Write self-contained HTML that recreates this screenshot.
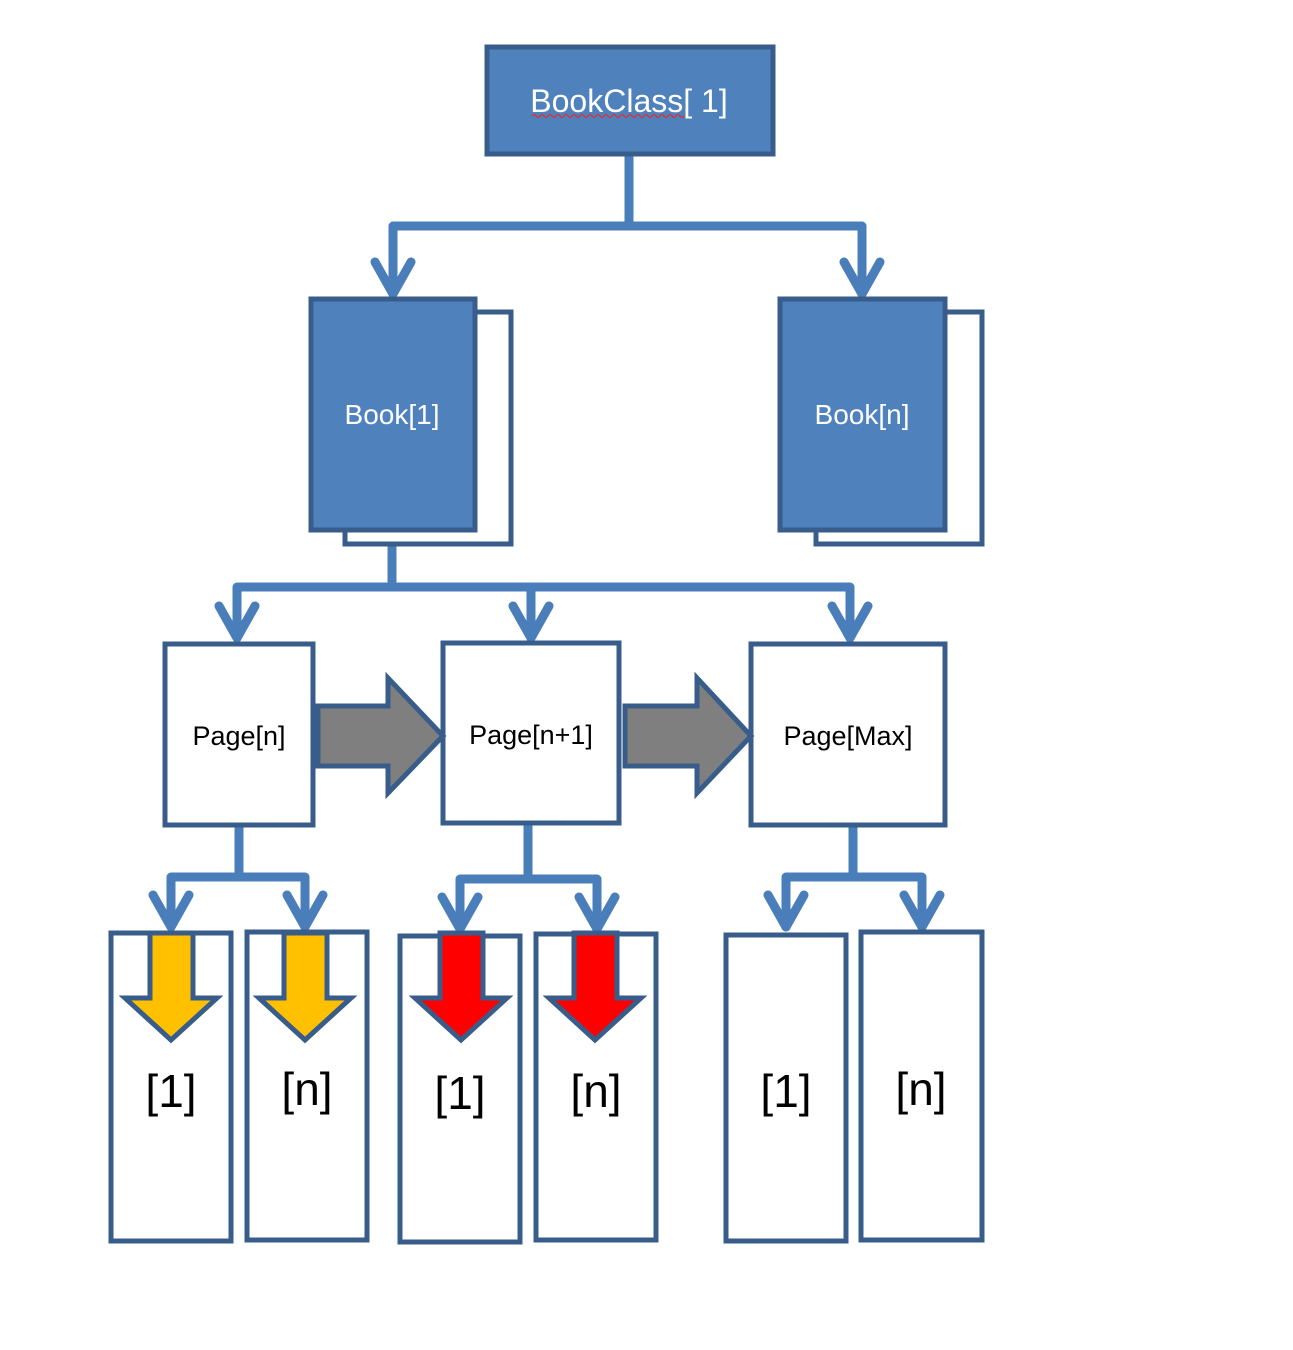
<!DOCTYPE html>
<html><head><meta charset="utf-8"><style>
html,body{margin:0;padding:0;background:#fff;}
svg{display:block;}
text{font-family:"Liberation Sans",sans-serif;}
</style></head><body>
<svg width="1293" height="1350" viewBox="0 0 1293 1350" xmlns="http://www.w3.org/2000/svg">
<g fill="none" stroke="#4a7ebb" stroke-width="9" stroke-linejoin="round" stroke-linecap="round">
<path d="M629 154 V226 M393 226 H862 M393 226 V294 M862 226 V294"/>
<path d="M375 262 L393 294 L411 262 M844 262 L862 294 L880 262"/>
<path d="M392 530 V587 M237 587 H850 M237 587 V638 M531 587 V638 M850 587 V638"/>
<path d="M219 606 L237 638 L255 606 M513 606 L531 638 L549 606 M832 606 L850 638 L868 606"/>
<path d="M239 825 V877 M171 877 H305 M171 877 V927 M305 877 V927"/>
<path d="M153 895 L171 927 L189 895 M287 895 L305 927 L323 895"/>
<path d="M528 823 V879 M460 879 H597 M460 879 V929 M597 879 V929"/>
<path d="M442 897 L460 929 L478 897 M579 897 L597 929 L615 897"/>
<path d="M853 825 V877 M786 877 H922 M786 877 V927 M922 877 V927"/>
<path d="M768 895 L786 927 L804 895 M904 895 L922 927 L940 895"/>
</g>
<g stroke="#385d8a" stroke-width="5">
<rect x="487" y="47" width="286" height="107" fill="#4f81bd"/>
<rect x="345" y="312" width="166" height="232" fill="#fff"/>
<rect x="311" y="299" width="164" height="231" fill="#4f81bd"/>
<rect x="816" y="312" width="166" height="232" fill="#fff"/>
<rect x="780" y="299" width="165" height="231" fill="#4f81bd"/>
<rect x="165" y="644" width="148" height="181" fill="#fff"/>
<rect x="443" y="643" width="176" height="180" fill="#fff"/>
<rect x="751" y="644" width="194" height="181" fill="#fff"/>
<path d="M318 706 H388 V678 L443 736 L388 793 V766 H318 Z" fill="#7f7f7f"/>
<path d="M625 706 H697 V678 L751 736 L697 793 V766 H625 Z" fill="#7f7f7f"/>
<rect x="111" y="933" width="120" height="308" fill="#fff"/>
<rect x="247" y="932" width="120" height="308" fill="#fff"/>
<rect x="400" y="936" width="120" height="306" fill="#fff"/>
<rect x="536" y="934" width="120" height="306" fill="#fff"/>
<rect x="726" y="935" width="120" height="306" fill="#fff"/>
<rect x="861" y="932" width="121" height="308" fill="#fff"/>
<path d="M150 933 H193 V998 H217 L171 1040 L125 998 H150 Z" fill="#ffc000"/>
<path d="M284 933 H327 V998 H351 L305 1040 L259 998 H284 Z" fill="#ffc000"/>
<path d="M440 933 H483 V998 H507 L461 1040 L415 998 H440 Z" fill="#ff0000"/>
<path d="M574 933 H617 V998 H641 L595 1040 L549 998 H574 Z" fill="#ff0000"/>
</g>
<text x="629" y="112" font-size="32" fill="#fff" text-anchor="middle">BookClass[ 1]</text>
<path d="M532 116 q2 -3 4 0 t4 0 t4 0 t4 0 t4 0 t4 0 t4 0 t4 0 t4 0 t4 0 t4 0 t4 0 t4 0 t4 0 t4 0 t4 0 t4 0 t4 0 t4 0 t4 0 t4 0 t4 0 t4 0 t4 0 t4 0 t4 0 t4 0 t4 0 t4 0 t4 0 t4 0 t4 0 t4 0 t4 0 t4 0 t4 0 t4 0 t4 0" stroke="#e03030" stroke-width="1.3" fill="none"/>
<text x="392" y="424" font-size="28" fill="#fff" text-anchor="middle">Book[1]</text>
<text x="862" y="424" font-size="28" fill="#fff" text-anchor="middle">Book[n]</text>
<text x="239" y="745" font-size="27" fill="#000" text-anchor="middle">Page[n]</text>
<text x="531" y="744" font-size="27" fill="#000" text-anchor="middle">Page[n+1]</text>
<text x="848" y="745" font-size="27" fill="#000" text-anchor="middle">Page[Max]</text>
<g font-size="46" fill="#000" text-anchor="middle">
<text x="171" y="1107">[1]</text>
<text x="307" y="1105">[n]</text>
<text x="460" y="1109">[1]</text>
<text x="596" y="1107">[n]</text>
<text x="786" y="1107">[1]</text>
<text x="921" y="1105">[n]</text>
</g>
</svg>
</body></html>
